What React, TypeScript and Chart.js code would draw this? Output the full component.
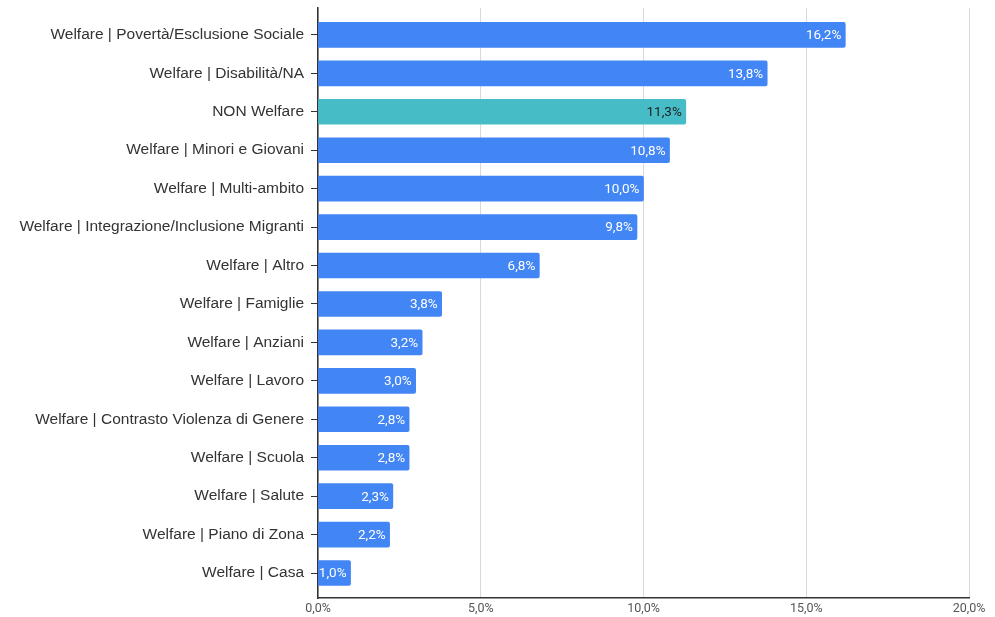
import React, { useEffect, useRef } from "react";
import { Chart, registerables } from "chart.js";

Chart.register(...registerables);

const categories = [
  "Welfare | Povertà/Esclusione Sociale",
  "Welfare | Disabilità/NA",
  "NON Welfare",
  "Welfare | Minori e Giovani",
  "Welfare | Multi-ambito",
  "Welfare | Integrazione/Inclusione Migranti",
  "Welfare | Altro",
  "Welfare | Famiglie",
  "Welfare | Anziani",
  "Welfare | Lavoro",
  "Welfare | Contrasto Violenza di Genere",
  "Welfare | Scuola",
  "Welfare | Salute",
  "Welfare | Piano di Zona",
  "Welfare | Casa",
];

const values = [16.2, 13.8, 11.3, 10.8, 10.0, 9.8, 6.8, 3.8, 3.2, 3.0, 2.8, 2.8, 2.3, 2.2, 1.0];

const xTicks = [0, 5, 10, 15, 20];

const BLUE = "#4285F4";
const TEAL = "#46BDC6";

const fmt = (v: number) => v.toFixed(1).replace(".", ",") + "%";

const labelPlugin = {
  id: "barLabels",
  afterDatasetsDraw(chart: any) {
    const ctx = chart.ctx;
    const meta = chart.getDatasetMeta(0);
    ctx.save();
    ctx.font = "13.5px Roboto";
    ctx.textAlign = "right";
    ctx.textBaseline = "middle";
    meta.data.forEach((bar: any, i: number) => {
      ctx.fillStyle = categories[i] === "NON Welfare" ? "#222222" : "#ffffff";
      ctx.fillText(fmt(values[i]), bar.x - 4, bar.y + 1);
    });
    ctx.restore();
  },
};

export default function App() {
  const ref = useRef<HTMLCanvasElement>(null);
  useEffect(() => {
    if (!ref.current) return;
    const chart = new Chart(ref.current, {
      type: "bar",
      data: {
        datasets: [
          {
            data: values.map((v, i) => ({ x: v, y: i })) as any,
            backgroundColor: categories.map((c) => (c === "NON Welfare" ? TEAL : BLUE)),
            barThickness: 25,
            borderRadius: 2,
            borderSkipped: "start",
          },
        ],
      },
      options: {
        indexAxis: "y",
        animation: false,
        responsive: false,
        maintainAspectRatio: false,
        layout: { padding: { left: 0, right: 26, top: 8, bottom: 0 } },
        plugins: { legend: { display: false }, tooltip: { enabled: false } },
        scales: {
          x: {
            type: "linear",
            min: 0,
            max: 20,
            afterBuildTicks: (s: any) => {
              s.ticks = xTicks.map((v) => ({ value: v }));
            },
            afterFit: (s: any) => {
              s.height = 19;
            },
            ticks: {
              callback: (v: any) => fmt(Number(v)),
              font: { family: "Roboto", size: 12.5 },
              color: "#555555",
              padding: 3,
              maxRotation: 0,
            },
            grid: { color: "#d9d9d9", lineWidth: 1, drawTicks: false },
            border: { display: true, color: "#333333", width: 1.5 },
          },
          y: {
            type: "linear",
            reverse: true,
            offset: false,
            bounds: "data",
            min: -0.7,
            max: 14.65,
            afterBuildTicks: (s: any) => {
              s.ticks = categories.map((_, i) => ({ value: i }));
            },
            afterFit: (s: any) => {
              s.width = 318;
              s.paddingTop = 0;
              s.paddingBottom = 0;
            },
            ticks: {
              callback: (v: any) => categories[Number(v)] ?? "",
              font: { family: "'Liberation Sans', Arial, sans-serif", size: 15.5 },
              color: "#333333",
              padding: 7,
              autoSkip: false,
            },
            grid: { display: true, offset: false, drawOnChartArea: false, color: "#333333", tickLength: 7 },
            border: { display: true, color: "#333333", width: 1.5 },
          },
        },
      },
      plugins: [labelPlugin],
    });
    return () => chart.destroy();
  }, []);
  return (
    <div style={{ position: "fixed", left: 0, top: 0, width: 995, height: 617, background: "#fff" }}>
      <canvas ref={ref} width={995} height={617} style={{ width: 995, height: 617 }} />
    </div>
  );
}
